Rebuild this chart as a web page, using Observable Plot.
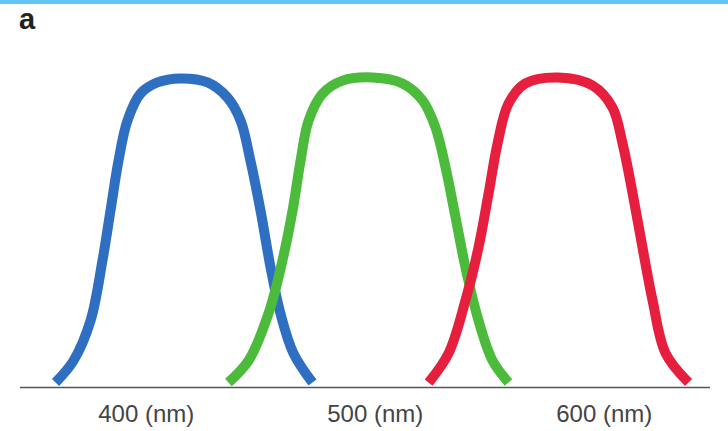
<!DOCTYPE html>
<html>
<head>
<meta charset="utf-8">
<script src="https://cdn.jsdelivr.net/npm/d3@7"></script>
<script src="https://cdn.jsdelivr.net/npm/@observablehq/plot@0.6"></script>
<style>
  html, body { margin: 0; padding: 0; background: #fff; }
  #wrap { position: relative; width: 728px; height: 431px; overflow: hidden; }
  #topbar { position: absolute; left: 0; top: 0; width: 728px; height: 4px; background: #62c3f5; }
  #panel { position: absolute; left: 19px; top: 1px; font-family: "Liberation Sans", Arial, sans-serif; font-weight: bold; font-size: 29px; color: #222; line-height: 36px; }
  #chart { position: absolute; left: 0; top: 0; }
</style>
</head>
<body>
<div id="wrap">
  <div id="chart"></div>
  <div id="topbar"></div>
  <div id="panel">a</div>
</div>
<script>
// Wavelength (nm) and relative response
const blueX  = [360.4, 368.3, 375.7, 380.9, 384.4, 387.9, 391.8, 397.5, 404.9, 415.0, 426.8, 435.5, 441.2, 445.5, 449.9, 454.3, 458.6, 464.3, 472.6];
const blueY  = [0.016, 0.087, 0.216, 0.41, 0.571, 0.732, 0.861, 0.948, 0.984, 0.997, 0.984, 0.935, 0.861, 0.732, 0.571, 0.387, 0.239, 0.110, 0.016];
const greenX = [435.9, 444.7, 453.4, 459.5, 463.9, 467.4, 470.9, 477.0, 485.7, 498.8, 511.9, 520.7, 526.3, 530.7, 535.1, 539.4, 545.1, 551.2, 558.2];
const greenY = [0.016, 0.087, 0.239, 0.41, 0.571, 0.732, 0.861, 0.948, 0.99, 1.0, 0.981, 0.926, 0.839, 0.71, 0.548, 0.387, 0.216, 0.087, 0.016];
const redX   = [523.3, 532.0, 539.4, 545.1, 549.5, 553.4, 558.2, 565.6, 580.0, 594.9, 603.6, 608.0, 612.4, 616.7, 621.1, 626.8, 636.8];
const redY   = [0.016, 0.11, 0.281, 0.452, 0.626, 0.787, 0.916, 0.981, 1.0, 0.974, 0.903, 0.787, 0.626, 0.452, 0.281, 0.110, 0.016];

const seriesNames  = ["Short", "Medium", "Long"];
const seriesColors = ["#2f6fc2", "#4cbb3c", "#e51f3d"];
const tickValues = [400, 500, 600];
const tickUnit = "(nm)";

const xs = [blueX, greenX, redX];
const ys = [blueY, greenY, redY];
const rows = [];
seriesNames.forEach((name, i) => {
  xs[i].forEach((x, j) => rows.push({series: name, wl: x, v: ys[i][j]}));
});

const chart = Plot.plot({
  width: 728,
  height: 431,
  marginLeft: 20,
  marginRight: 18,
  marginTop: 77,
  marginBottom: 44,
  style: {background: "transparent", fontFamily: "'Liberation Sans', Arial, sans-serif"},
  x: {domain: [345.1, 646.4]},
  y: {domain: [0, 1], axis: null},
  color: {type: "ordinal", domain: seriesNames, range: seriesColors},
  marks: [
    Plot.ruleY([0], {stroke: "#555", strokeWidth: 1.6}),
    Plot.line(rows, {x: "wl", y: "v", z: "series", stroke: "series", strokeWidth: 10, curve: "catmull-rom", strokeLinecap: "butt", strokeLinejoin: "round"}),
    Plot.axisX({ticks: tickValues, tickSize: 0, tickPadding: 17, tickFormat: d => `${d} ${tickUnit}`, label: null, fontSize: 24, fill: "#444", style: {letterSpacing: "2px"}})
  ]
});
document.getElementById("chart").appendChild(chart);
</script>
</body>
</html>
